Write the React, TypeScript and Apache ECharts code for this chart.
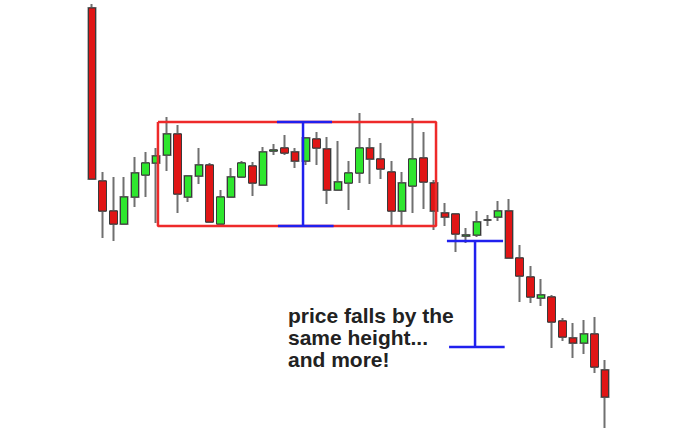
import React, { useEffect, useRef } from 'react';
import * as echarts from 'echarts';

// prices (0 = bottom edge, 434 = top edge)
const opens = [
  426, 253, 223, 210, 237, 259, 271, 279, 300, 237, 258, 269, 210, 237, 257, 268, 249,
  283, 286, 282, 273, 295, 285, 244, 251, 261, 286, 275, 262, 223, 248, 276, 251, 221,
  220, 198, 199, 214, 217, 223, 176, 157, 136, 137, 113, 96, 91, 100, 64,
];
const closes = [
  255, 223, 210, 237, 261, 271, 278, 300, 240, 258, 269, 212, 237, 257, 271, 251, 282,
  284, 281, 273, 296, 286, 244, 252, 261, 286, 275, 265, 223, 251, 275, 252, 223, 217,
  200, 199, 212, 214, 223, 176, 158, 137, 139, 112, 97, 91, 100, 67, 37,
];
const lows = [
  255, 196, 193, 210, 227, 237, 211, 263, 221, 232, 250, 212, 210, 237, 257, 238, 249,
  279, 279, 266, 269, 269, 230, 244, 224, 251, 250, 255, 207, 207, 221, 225, 204, 208,
  182, 191, 197, 208, 213, 176, 132, 131, 128, 86, 93, 76, 80, 61, 6,
];
const highs = [
  430, 262, 257, 257, 277, 282, 286, 317, 309, 258, 286, 271, 244, 266, 273, 272, 287,
  290, 299, 286, 297, 302, 297, 293, 273, 321, 296, 291, 273, 262, 316, 302, 254, 231,
  220, 206, 223, 219, 233, 235, 189, 168, 155, 139, 116, 111, 114, 117, 74,
];

// annotation shapes, x in candle index units, y in price
const boxX = [6.17, 32.18, 32.18, 6.17, 6.17];
const boxY = [312, 312, 208, 208, 312];
const beamSegments: [number, number, number, number][] = [
  [19.74, 312, 19.74, 208],
  [17.3, 312, 22.45, 312],
  [17.4, 208, 22.6, 208],
  [35.83, 193, 35.83, 87],
  [33.2, 193, 38.45, 193],
  [33.4, 87, 38.6, 87],
];
const noteLines = ['price falls by the', 'same height...', 'and more!'];

const App = () => {
  const chartRef = useRef<HTMLDivElement>(null);

  useEffect(() => {
    if (!chartRef.current) return;
    const chart = echarts.init(chartRef.current, undefined, { renderer: 'svg' });

    const cats = opens.map((_, i) => String(i + 1));
    const wickData = opens.map((o, i) => [o, closes[i], lows[i], highs[i]]);
    const bodyData = opens.map((o, i) => [
      o,
      closes[i],
      Math.min(o, closes[i]),
      Math.max(o, closes[i]),
    ]);

    const option: echarts.EChartsOption = {
      animation: false,
      backgroundColor: '#ffffff',
      grid: { left: 86.65, right: 63.5, top: 0, bottom: 0 },
      xAxis: [
        { type: 'category', data: cats, show: false, boundaryGap: true },
        { type: 'value', min: -0.5, max: 48.5, show: false },
      ],
      yAxis: { type: 'value', min: 0, max: 434, show: false },
      series: [
        {
          type: 'candlestick',
          data: wickData,
          barWidth: 7,
          itemStyle: {
            color: '#707070',
            color0: '#707070',
            borderColor: '#707070',
            borderColor0: '#707070',
            borderColorDoji: '#707070',
            borderWidth: 2,
          },
        },
        {
          type: 'candlestick',
          data: bodyData,
          barWidth: 8,
          itemStyle: {
            color: '#2ee62e',
            color0: '#e01515',
            borderColor: '#3a3a3a',
            borderColor0: '#3a3a3a',
            borderColorDoji: '#3a3a3a',
            borderWidth: 1,
          },
        },
        {
          type: 'line',
          xAxisIndex: 1,
          data: boxX.map((x, i) => [x, boxY[i]]),
          symbol: 'none',
          lineStyle: { color: '#ee2a2a', width: 2.5 },
          z: 5,
        },
        ...beamSegments.map(([x1, y1, x2, y2]) => ({
          type: 'line' as const,
          xAxisIndex: 1,
          data: [
            [x1, y1],
            [x2, y2],
          ],
          symbol: 'none',
          lineStyle: { color: '#2020ee', width: 2.5 },
          z: 6,
        })),
      ],
      graphic: [
        {
          type: 'text',
          left: 288,
          top: 304,
          style: {
            text: noteLines.join('\n'),
            font: 'bold 21px "Liberation Sans", Arial, sans-serif',
            fill: '#222',
            lineHeight: 22,
          },
        },
      ],
    };

    chart.setOption(option);
    return () => {
      chart.dispose();
    };
  }, []);

  return (
    <div
      ref={chartRef}
      style={{ position: 'fixed', left: 0, top: 0, width: '674px', height: '434px' }}
    />
  );
};

export default App;
